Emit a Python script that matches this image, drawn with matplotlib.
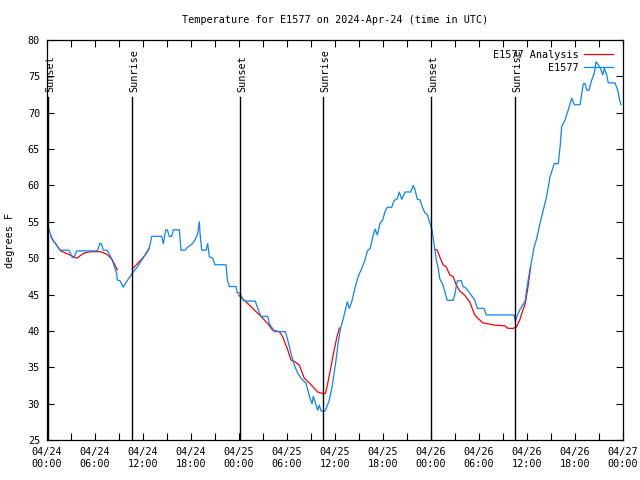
import pandas as pd
import matplotlib
matplotlib.use('Agg')
import matplotlib.pyplot as plt
import matplotlib.dates as mdates
import numpy as np

plt.rcParams['font.family'] = ['DejaVu Sans Mono']
plt.rcParams['font.size'] = 7.3

base = pd.Timestamp('2024-04-24 00:00')

# observations: hours after 04/24 00:00 UTC, degrees F
obs_hours = [0.04, 0.21, 0.46, 0.66, 1.09, 1.63, 2.75, 3.16, 3.38, 3.71, 6.29, 6.59, 6.79, 7.04, 7.54,
             7.96, 8.29, 8.71, 8.79, 9.13, 9.54, 9.96, 10.66, 11.29, 12.04, 12.46, 12.79, 13.09, 14.34,
             14.54, 14.84, 15.04, 15.29, 15.59, 15.79, 16.54, 16.75, 17.25, 17.66, 18.09, 18.5, 18.84,
             19.04, 19.13, 19.34, 19.88, 20.09, 20.29, 20.71, 21.0, 22.38, 22.54, 22.79, 23.63, 23.79,
             24.13, 24.54, 24.88, 26.04, 26.34, 26.75, 27.59, 27.79, 28.21, 28.41, 29.79, 30.09, 30.5,
             30.91, 31.34, 31.75, 32.38, 32.59, 32.88, 33.13, 33.29, 33.63, 33.84, 34.04, 34.25, 34.79,
             35.29, 35.71, 36.13, 36.41, 36.71, 37.04, 37.38, 37.54, 37.79, 38.09, 38.5, 38.91, 39.34,
             39.75, 40.04, 40.38, 40.79, 41.0, 41.29, 41.63, 41.96, 42.25, 42.54, 43.09, 43.38, 43.79,
             44.04, 44.34, 44.75, 45.46, 45.79, 46.0, 46.29, 46.63, 46.96, 47.25, 47.54, 47.88, 48.13,
             48.38, 48.66, 48.88, 49.09, 49.5, 49.91, 50.04, 50.75, 50.96, 51.29, 51.79, 52.0, 52.41,
             52.84, 53.46, 53.79, 54.63, 54.91, 58.38, 58.54, 58.66, 59.09, 59.5, 59.79, 59.91, 60.16,
             60.59, 60.91, 61.21, 61.63, 62.04, 62.46, 62.88, 63.41, 63.91, 64.13, 64.34, 64.75, 65.16,
             65.59, 65.91, 66.63, 67.04, 67.25, 67.46, 67.75, 68.09, 68.41, 68.63, 68.91, 69.25, 69.46,
             69.66, 69.96, 70.16, 71.0, 71.34, 71.63, 71.75]
obs_temp = [55.0, 54.1, 53.2, 52.6, 52.0, 51.1, 51.1, 50.1, 50.1, 51.0, 51.0, 52.0, 52.0, 51.1, 51.1,
            50.2, 49.3, 47.9, 47.0, 46.9, 46.0, 46.8, 47.9, 48.8, 50.1, 50.7, 51.4, 53.0, 53.0,
            52.0, 53.9, 53.9, 53.0, 53.0, 53.9, 53.9, 51.1, 51.1, 51.6, 51.9, 52.5, 53.4,
            55.0, 53.4, 51.1, 51.1, 52.0, 50.2, 50.0, 49.1, 49.1, 47.0, 46.1, 46.1, 45.2,
            45.2, 44.2, 44.1, 44.1, 43.1, 42.0, 42.0, 41.0, 40.3, 39.9, 39.9, 38.75, 36.9,
            35.3, 34.2, 33.5, 32.8, 31.9, 30.7, 30.0, 31.0, 29.8, 29.1, 29.8, 29.0, 29.0,
            30.5, 32.8, 36.0, 38.5, 40.4, 41.7, 43.3, 44.0, 43.1, 44.0, 45.9, 47.5, 48.6,
            49.75, 51.0, 51.3, 53.2, 54.0, 53.2, 54.8, 55.25, 56.4, 57.0, 57.0, 57.9, 58.2,
            59.1, 58.1, 59.1, 59.1, 60.0, 59.4, 58.1, 58.0, 56.9, 56.2, 56.0, 54.8, 53.9,
            52.0, 49.75, 48.8, 47.2, 46.3, 44.7, 44.2, 44.2, 44.9, 46.9, 46.9, 46.1, 45.85,
            45.2, 44.25, 43.1, 43.1, 42.2, 42.2, 41.3, 41.75, 42.9, 43.6, 44.2, 45.4, 47.1,
            49.75, 51.6, 52.7, 54.8, 56.6, 58.5, 61.2, 63.0, 63.0, 65.3, 68.1, 69.0, 70.4,
            72.0, 71.1, 71.1, 74.0, 74.0, 73.1, 73.1, 74.5, 75.4, 77.0, 76.6, 75.9, 75.2,
            76.1, 75.2, 74.1, 74.1, 73.1, 71.5, 71.1]

# analysis: NaN breaks the line between runs
ana_hours = [0.5, 0.79, 1.71, 2.96, 3.71, 4.63, 5.46, 6.71, 7.54, 8.16, 8.79, 9.5,
             10.66, 12.04, 12.79, 13.5,
             24.0, 24.25, 24.88, 25.71, 26.75, 27.59, 28.21, 29.04, 29.46, 30.09, 30.5, 30.91, 31.54,
             32.16, 33.0, 33.84, 34.46, 34.79, 35.0, 35.38, 35.79, 36.21, 36.54, 37.0,
             48.54, 48.79, 49.09, 49.5, 49.91, 50.34, 50.75, 51.16, 51.59, 52.21, 52.84, 53.46, 54.09,
             54.5, 55.96, 57.21, 57.63, 58.25, 58.66, 59.09, 59.5, 59.79, 60.13, 60.46]
ana_temp = [53.0, 52.4, 51.0, 50.4, 50.0, 50.7, 50.9, 50.9, 50.5, 49.8, 48.4, np.nan,
            48.5, 50.1, 51.4, np.nan,
            44.9, 44.6, 44.0, 43.1, 42.0, 41.0, 40.1, 39.9, 39.2, 37.4, 36.0, 35.8, 35.3,
            33.5, 32.6, 31.6, 31.4, 31.4, 32.3, 34.4, 36.8, 39.0, 40.4, np.nan,
            51.2, 51.1, 50.2, 49.1, 48.8, 47.7, 47.5, 46.3, 45.5, 44.9, 44.0, 42.2, 41.5,
            41.1, 40.8, 40.7, 40.35, 40.35, 40.5, 41.5, 42.9, 43.8, 46.1, 48.8]

sun_hours = [0.15, 10.6, 24.1, 34.5, 48.0, 58.5]
sun_labels = ['Sunset', 'Sunrise', 'Sunset', 'Sunrise', 'Sunset', 'Sunrise']


def to_time(hours):
    return base + pd.to_timedelta(hours, unit='h')


fig = plt.figure(figsize=(6.4, 4.8), dpi=100)
ax = fig.add_axes([47 / 640, 40 / 480, 576 / 640, 400 / 480])

ax.plot(to_time(ana_hours), ana_temp, c='red', lw=0.9, label='E1577 Analysis')
ax.plot(to_time(obs_hours), obs_temp, c='#0a84ff', lw=0.9, label='E1577')

for h, name in zip(sun_hours, sun_labels):
    t = to_time([h])[0]
    ax.plot([t, t], [25, 72.2], c='black', lw=1.0)
    ax.text(t + pd.Timedelta(minutes=20), 72.8, name, rotation=90, ha='center', va='bottom')

ax.set_xlim(base, base + pd.Timedelta(hours=72))
ax.set_ylim(25, 80)
ax.set_yticks(range(25, 81, 5))
ax.xaxis.set_major_locator(mdates.HourLocator(byhour=[0, 6, 12, 18]))
ax.xaxis.set_minor_locator(mdates.HourLocator(byhour=[3, 9, 15, 21]))
ax.xaxis.set_major_formatter(mdates.DateFormatter('%m/%d\n%H:%M'))
ax.tick_params(which='both', direction='in', top=True, right=True, width=0.8)
ax.tick_params(which='major', length=5, pad=5)
ax.tick_params(which='minor', length=5)
for s in ax.spines.values():
    s.set_linewidth(0.9)

ax.set_title('Temperature for E1577 on 2024-Apr-24 (time in UTC)', pad=12, fontsize=7.3)
ax.set_ylabel('degrees F')
ax.yaxis.set_label_coords(-0.056, 0.5)

ax.legend(loc='upper right', frameon=False, markerfirst=False, handlelength=2.9,
          labelspacing=0.3, borderaxespad=0.55, handletextpad=0.5)

plt.savefig('out.png', dpi=100)
